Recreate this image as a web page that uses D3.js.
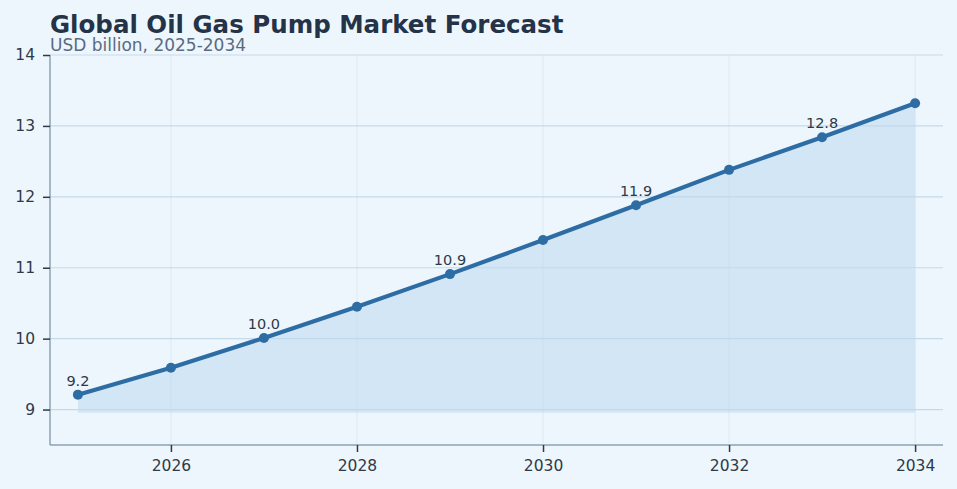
<!DOCTYPE html>
<html lang="en">
<head>
    <meta charset="UTF-8">
    <title>Global Oil Gas Pump Market Forecast</title>
    <style>
        html, body {
            margin: 0;
            padding: 0;
            background: #eef6fd;
        }

        svg {
            display: block;
            font-family: "DejaVu Sans", sans-serif;
        }

        .grid line {
            stroke: #c4dae9;
            stroke-width: 1.2px;
        }

        .vgrid line {
            stroke: #dbe8f3;
            stroke-width: 1px;
        }

        .axis path {
            stroke: #8ba2b6;
            stroke-width: 1.5px;
        }

        .axis line {
            stroke: #2d3a4a;
            stroke-width: 1.5px;
        }

        .axis text {
            fill: #2d3a4a;
        }
    </style>
</head>
<body>
<script src="https://d3js.org/d3.v7.min.js"></script>
<script>
    // data
    const years = [2025, 2026, 2027, 2028, 2029, 2030, 2031, 2032, 2033, 2034];
    const values = [9.21, 9.59, 10.01, 10.45, 10.91, 11.39, 11.88, 12.38, 12.84, 13.32];
    const labelYears = [2025, 2027, 2029, 2031, 2033];
    const xTicks = [2026, 2028, 2030, 2032, 2034];
    const yTicks = [9, 10, 11, 12, 13, 14];
    const areaBase = 8.955;

    const width = 957;
    const height = 489;
    const margin = {top: 55, right: 14, bottom: 44, left: 50};
    const font = '"DejaVu Sans", sans-serif';

    const svg = d3.select('body').append('svg')
        .attr('width', width)
        .attr('height', height);

    const x = d3.scaleLinear()
        .domain([2024.7, 2034.3])
        .range([margin.left, width - margin.right]);

    const y = d3.scaleLinear()
        .domain([8.5, 14])
        .range([height - margin.bottom, margin.top]);

    const points = years.map((yr, i) => ({year: yr, value: values[i]}));

    // gridlines
    svg.append('g')
        .attr('class', 'vgrid')
        .selectAll('line')
        .data(xTicks)
        .join('line')
        .attr('x1', d => x(d))
        .attr('x2', d => x(d))
        .attr('y1', margin.top)
        .attr('y2', height - margin.bottom);

    svg.append('g')
        .attr('class', 'grid')
        .selectAll('line')
        .data(yTicks)
        .join('line')
        .attr('x1', margin.left)
        .attr('x2', width - margin.right)
        .attr('y1', d => y(d))
        .attr('y2', d => y(d));

    // area under the line
    const area = d3.area()
        .x(d => x(d.year))
        .y0(y(areaBase))
        .y1(d => y(d.value));

    svg.append('path')
        .datum(points)
        .attr('d', area)
        .attr('fill', '#bdd9ef')
        .attr('fill-opacity', 0.55);

    // axes
    const yAxis = d3.axisLeft(y)
        .tickValues(yTicks)
        .tickFormat(d3.format('d'))
        .tickSize(7)
        .tickPadding(8);

    const gy = svg.append('g')
        .attr('class', 'axis')
        .attr('transform', `translate(${margin.left},0)`)
        .call(yAxis)
        .attr('font-size', 15.5)
        .attr('font-family', font);
    gy.select('.domain').attr('d', `M0,${y(14)}V${y(8.5)}`);

    const xAxis = d3.axisBottom(x)
        .tickValues(xTicks)
        .tickFormat(d3.format('d'))
        .tickSize(7)
        .tickPadding(8);

    const gx = svg.append('g')
        .attr('class', 'axis')
        .attr('transform', `translate(0,${height - margin.bottom})`)
        .call(xAxis)
        .attr('font-size', 15.5)
        .attr('font-family', font);
    gx.select('.domain').attr('d', `M${margin.left},0H${width - margin.right}`);

    // line + markers
    const line = d3.line()
        .x(d => x(d.year))
        .y(d => y(d.value));

    svg.append('path')
        .datum(points)
        .attr('d', line)
        .attr('fill', 'none')
        .attr('stroke', '#2e6da4')
        .attr('stroke-width', 4.2)
        .attr('stroke-linejoin', 'round');

    svg.append('g')
        .selectAll('circle')
        .data(points)
        .join('circle')
        .attr('cx', d => x(d.year))
        .attr('cy', d => y(d.value))
        .attr('r', 5)
        .attr('fill', '#2e6da4');

    // value labels on every other point
    svg.append('g')
        .selectAll('text')
        .data(points.filter(d => labelYears.includes(d.year)))
        .join('text')
        .attr('x', d => x(d.year))
        .attr('y', d => y(d.value) - 9)
        .attr('text-anchor', 'middle')
        .attr('font-size', 14.5)
        .attr('fill', '#2d3a4a')
        .text(d => d.value.toFixed(1));

    // title
    svg.append('text')
        .attr('x', margin.left)
        .attr('y', 32.5)
        .attr('font-size', 24.5)
        .attr('font-weight', 'bold')
        .attr('fill', '#253348')
        .text('Global Oil Gas Pump Market Forecast');

    svg.append('text')
        .attr('x', margin.left)
        .attr('y', 50.5)
        .attr('font-size', 17)
        .attr('fill', '#5a6b80')
        .text('USD billion, 2025-2034');
</script>
</body>
</html>
